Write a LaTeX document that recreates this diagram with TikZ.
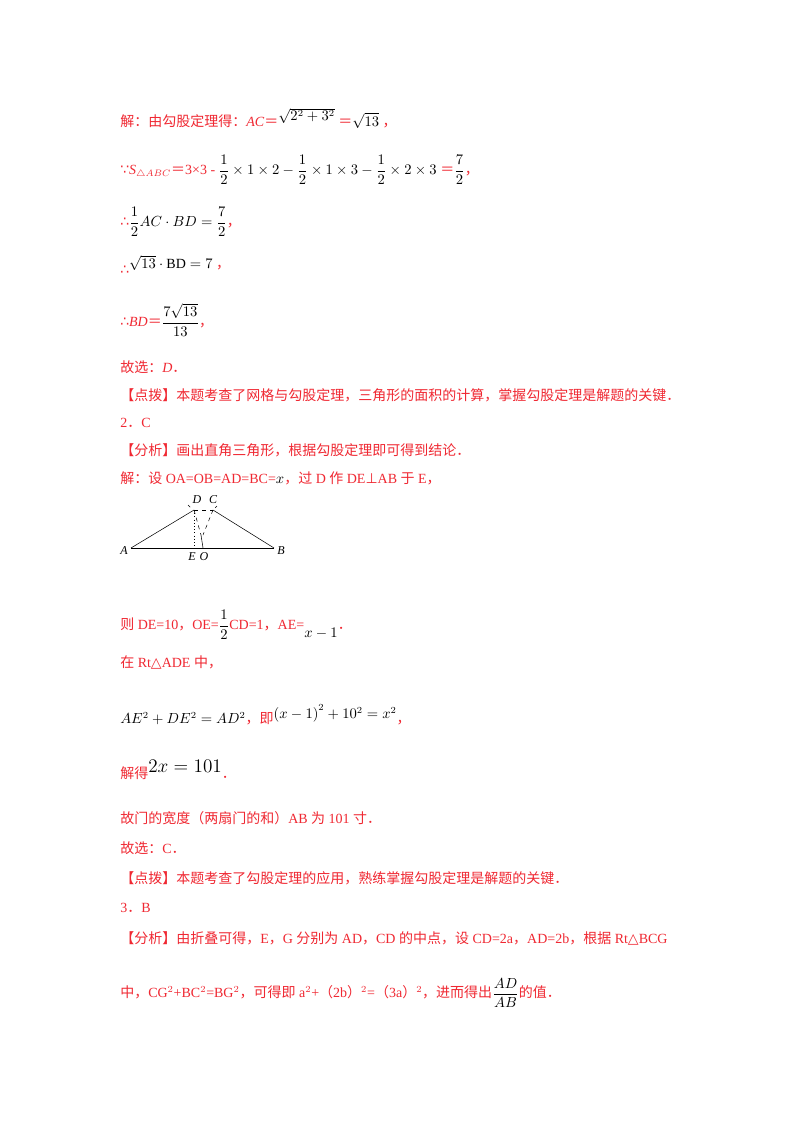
\documentclass[tikz,border=0pt]{standalone}
\usepackage{fontspec}
\setmainfont{Liberation Serif}
\newfontfamily\cjk{Noto Sans CJK SC}
\newfontfamily\djv{DejaVu Sans}
\usepackage{amsmath}
\definecolor{rd}{RGB}{240,40,50}
\newcommand{\zh}[1]{{\cjk #1}}
\newcommand{\sy}[1]{{\djv #1}}
\newcommand{\bk}[1]{\textcolor{black}{#1}}
\begin{document}
\begin{tikzpicture}[x=0.75pt,y=-0.75pt,
  ln/.style={anchor=west,inner sep=0pt,text=rd,font=\fontsize{10.5}{12}\selectfont},
  lab/.style={font=\fontsize{9}{10}\selectfont\itshape,inner sep=0pt}]
\fill[white] (0,0) rectangle (800,1132);
\node[ln] (l1) at (120,118) {\zh{解：由勾股定理得：}\textit{AC}\zh{＝}\raisebox{0.8ex}{\bk{$\sqrt{2^2+3^2}$}} \zh{＝}\bk{$\sqrt{13}$} \zh{，}};
\node[ln] (l2) at (120,170) {\sy{∵}\textit{S}$_{\triangle ABC}$\zh{＝}3×3 - \bk{$\dfrac12\times1\times2-\dfrac12\times1\times3-\dfrac12\times2\times3$} \zh{＝}\bk{$\dfrac72$}\zh{，}};
\node[ln] (l3) at (120,222) {\sy{∴}\bk{$\dfrac12 AC\cdot BD=\dfrac72$}\zh{，}};
\node[ln] (l4) at (120,265) {\raisebox{-1ex}{\sy{∴}}\bk{$\sqrt{13}\cdot\mathrm{BD}=7$} \zh{，}};
\node[ln] (l5) at (120,320) {\sy{∴}\textit{BD}\zh{＝}\bk{$\dfrac{7\sqrt{13}}{13}$}\zh{，}};
\node[ln] (l6) at (120,367) {\zh{故选：}\textit{D}\zh{．}};
\node[ln] (l7) at (120,395) {\zh{【点拨】本题考查了网格与勾股定理，三角形的面积的计算，掌握勾股定理是解题的关键．}};
\node[ln] (l8) at (120,423) {2\zh{．}C};
\node[ln] (l9) at (120,450) {\zh{【分析】画出直角三角形，根据勾股定理即可得到结论．}};
\node[ln] (l10) at (120,478) {\zh{解：设} OA=OB=AD=BC=\bk{$x$}\zh{，过} D \zh{作} DE\sy{⊥}AB \zh{于} E\zh{，}};
% figure
\coordinate (A) at (131,548); \coordinate (B) at (274,548);
\coordinate (D) at (194,510); \coordinate (C) at (213,510);
\coordinate (E) at (194,548); \coordinate (O) at (203,548);
\draw[thin] (A)--(B); \draw[thin] (A)--(D); \draw[thin] (C)--(B);
\draw[thin,dashed] (D)--(C);
\draw[thin,dotted] (D)--(E);
\draw[thin,dashed] (D)--(201,535); \draw[thin,dashed] (C)--(203,535);
\draw[thin] (201,535)--(O);
\draw[thin] (188,505) arc (150:120:6);
\draw[thin] (217,506) arc (30:60:5);
\node[lab] (la) at (124,551) {A};
\node[lab] (lb) at (281,551) {B};
\node[lab] (ld) at (197,500) {D};
\node[lab] (lc) at (213,500) {C};
\node[lab] (le) at (192,557) {E};
\node[lab] (lo) at (204,557) {O};
\node[ln] (l11) at (120,625) {\zh{则} DE=10\zh{，}OE=\bk{$\dfrac12$}CD=1\zh{，}AE=\raisebox{-1.2ex}{\bk{$x-1$}}\zh{．}};
\node[ln] (l12) at (120,662) {\zh{在} Rt\sy{△}ADE \zh{中，}};
\node[ln] (l13) at (120,715) {\bk{$AE^2+DE^2=AD^2$}\zh{，即}\raisebox{0.8ex}{\bk{$\left(x-1\right)^2+10^2=x^2$}}\zh{，}};
\node[ln] (l14) at (120,770) {\zh{解得}\raisebox{1ex}{\bk{\fontsize{14}{16}\selectfont$2x=101$}}\zh{．}};
\node[ln] (l15) at (120,818) {\zh{故门的宽度（两扇门的和）}AB \zh{为} 101 \zh{寸．}};
\node[ln] (l16) at (120,848) {\zh{故选：}C\zh{．}};
\node[ln] (l17) at (120,878) {\zh{【点拨】本题考查了勾股定理的应用，熟练掌握勾股定理是解题的关键．}};
\node[ln] (l18) at (120,908) {3\zh{．}B};
\node[ln] (l19) at (120,938) {\zh{【分析】由折叠可得，}E\zh{，}G \zh{分别为} AD\zh{，}CD \zh{的中点，设} CD=2a\zh{，}AD=2b\zh{，根据} Rt\sy{△}BCG};
\node[ln] (l20) at (120,993) {\zh{中，}CG$^2$+BC$^2$=BG$^2$\zh{，可得即} a$^2$+\zh{（}2b\zh{）}$^2$=\zh{（}3a\zh{）}$^2$\zh{，进而得出}\bk{$\dfrac{AD}{AB}$}\zh{的值．}};
\end{tikzpicture}
\end{document}
